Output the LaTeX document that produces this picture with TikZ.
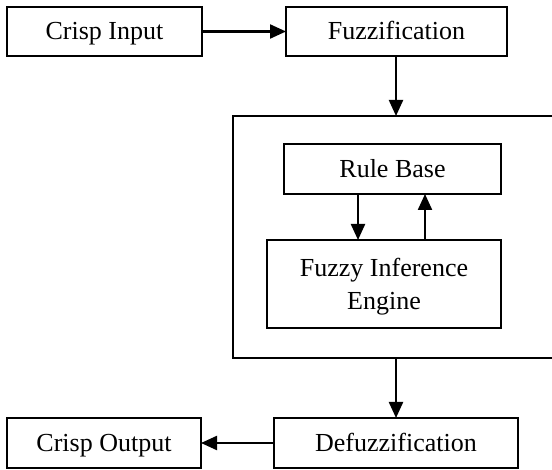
\documentclass[tikz,border=0pt]{standalone}
\usepackage{fontspec}
\setmainfont{Liberation Serif}
\usetikzlibrary{arrows.meta}
\begin{document}
\begin{tikzpicture}[x=1pt,y=-1pt,
  blockbox/.style={draw, line width=2.2pt, fill=white, inner sep=0pt, outer sep=0pt,
    align=center, font=\fontsize{26}{33}\selectfont},
  oneline/.style={text height=17pt, text depth=0pt},
  flow/.style={line width=2.2pt, -{Triangle[length=16pt,width=14pt]}}]
  \useasboundingbox[fill=white] (0,0) rectangle (552,470);

  % outer controller frame (right side runs past the page edge)
  \node[blockbox, minimum width=320pt, minimum height=242pt] (ctrl) at (393,237) {};

  % processing blocks
  \node[blockbox, oneline, minimum width=195pt, minimum height=49pt] (cin) at (104.5,31.5) {Crisp Input};
  \node[blockbox, oneline, minimum width=221pt, minimum height=49pt] (fuzz) at (396.5,31.5) {Fuzzification};
  \node[blockbox, oneline, minimum width=217pt, minimum height=50pt] (rules) at (392.5,169) {Rule Base};
  \node[blockbox, minimum width=234pt, minimum height=88pt] (fie) at (384,284) {\rule{0pt}{23pt}Fuzzy Inference\\Engine};
  \node[blockbox, oneline, minimum width=194pt, minimum height=50pt] (cout) at (104,443) {Crisp Output};
  \node[blockbox, oneline, minimum width=244pt, minimum height=50pt] (defuzz) at (396,443) {Defuzzification};

  % connectors
  \draw[flow] (cin.east) -- (fuzz.west);
  \draw[flow] ([xshift=-0.5pt]fuzz.south) -- ([xshift=-0.5pt]fuzz.south |- ctrl.north);
  \draw[flow] (rules.south -| 358,0) -- (fie.north -| 358,0);
  \draw[flow] (fie.north -| 425,0) -- (rules.south -| 425,0);
  \draw[flow] (ctrl.south -| defuzz.north) -- (defuzz.north);
  \draw[flow] (defuzz.west) -- (cout.east);
\end{tikzpicture}
\end{document}
